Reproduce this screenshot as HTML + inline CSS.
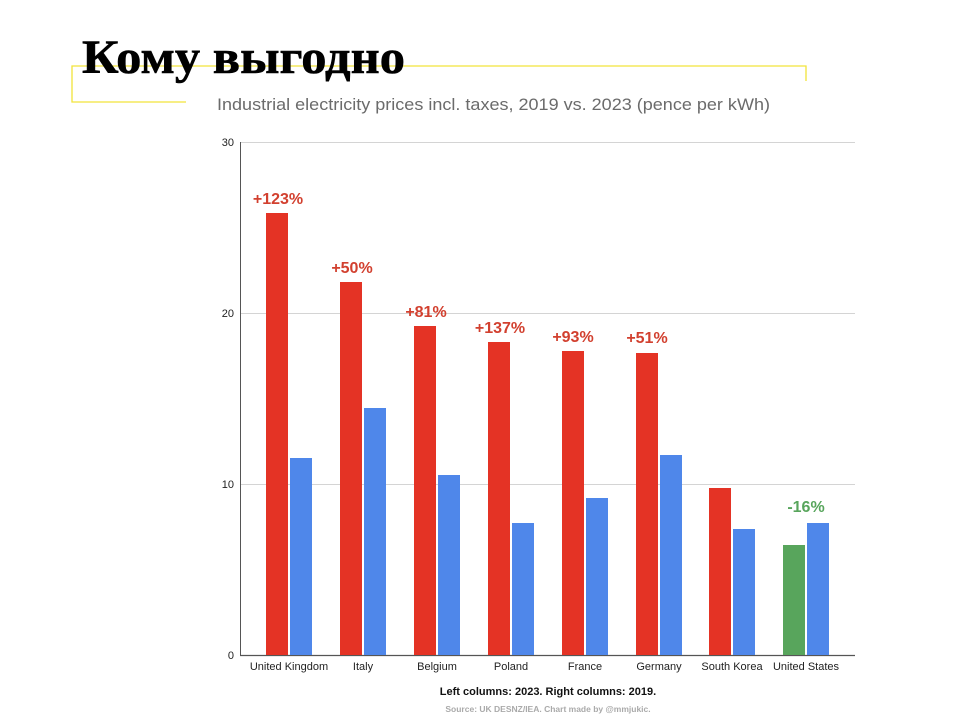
<!DOCTYPE html>
<html><head><meta charset="utf-8"><style>
body{margin:0;background:#fff;width:960px;height:720px;overflow:hidden}
svg{display:block}
</style></head><body>
<svg width="960" height="720" xmlns="http://www.w3.org/2000/svg">
<rect width="960" height="720" fill="#fff"/>
<g stroke="#f2e33a" stroke-width="1.3" fill="none">
<polyline points="186,102 72,102 72,66 806,66 806,81"/>
</g>
<text x="82" y="73" font-family="Liberation Serif, serif" font-weight="bold" font-size="48" fill="#000" stroke="#000" stroke-width="0.6" textLength="323" lengthAdjust="spacingAndGlyphs">Кому выгодно</text>
<text x="217" y="110" font-family="Liberation Sans, sans-serif" font-size="17" fill="#6b6b6b" textLength="553" lengthAdjust="spacingAndGlyphs">Industrial electricity prices incl. taxes, 2019 vs. 2023 (pence per kWh)</text>
<g stroke="#d4d4d4" stroke-width="1">
<line x1="240" y1="142.5" x2="855" y2="142.5"/>
<line x1="240" y1="313.5" x2="855" y2="313.5"/>
<line x1="240" y1="484.5" x2="855" y2="484.5"/>
</g>
<line x1="240.5" y1="142" x2="240.5" y2="655" stroke="#555" stroke-width="1"/>
<line x1="240" y1="655.5" x2="855" y2="655.5" stroke="#555" stroke-width="1.2"/>
<g font-family="Liberation Sans, sans-serif" font-size="11" fill="#222" text-anchor="end">
<text x="234" y="146">30</text><text x="234" y="317">20</text><text x="234" y="488">10</text><text x="234" y="659">0</text>
</g>
<g fill="#e43325">
<rect x="266" y="213" width="22" height="442"/>
<rect x="340" y="282" width="22" height="373"/>
<rect x="414" y="326" width="22" height="329"/>
<rect x="488" y="342" width="22" height="313"/>
<rect x="562" y="351" width="22" height="304"/>
<rect x="636" y="353" width="22" height="302"/>
<rect x="709" y="488" width="22" height="167"/>
</g>
<rect x="783" y="545" width="22" height="110" fill="#58a55c"/>
<g fill="#4f87ea">
<rect x="290" y="458" width="22" height="197"/>
<rect x="364" y="408" width="22" height="247"/>
<rect x="438" y="475" width="22" height="180"/>
<rect x="512" y="523" width="22" height="132"/>
<rect x="586" y="498" width="22" height="157"/>
<rect x="660" y="455" width="22" height="200"/>
<rect x="733" y="529" width="22" height="126"/>
<rect x="807" y="523" width="22" height="132"/>
</g>
<g font-family="Liberation Sans, sans-serif" font-weight="bold" font-size="16" fill="#d2402f" text-anchor="middle">
<text x="278" y="204">+123%</text>
<text x="352" y="273">+50%</text>
<text x="426" y="317">+81%</text>
<text x="500" y="333">+137%</text>
<text x="573" y="342">+93%</text>
<text x="647" y="343">+51%</text>
<text x="806" y="512" fill="#58a55c">-16%</text>
</g>
<g font-family="Liberation Sans, sans-serif" font-size="11" fill="#222" text-anchor="middle">
<text x="289" y="670">United Kingdom</text>
<text x="363" y="670">Italy</text>
<text x="437" y="670">Belgium</text>
<text x="511" y="670">Poland</text>
<text x="585" y="670">France</text>
<text x="659" y="670">Germany</text>
<text x="732" y="670">South Korea</text>
<text x="806" y="670">United States</text>
</g>
<text x="548" y="695" font-family="Liberation Sans, sans-serif" font-weight="bold" font-size="11" fill="#111" text-anchor="middle">Left columns: 2023. Right columns: 2019.</text>
<text x="548" y="712" font-family="Liberation Sans, sans-serif" font-weight="bold" font-size="8.5" fill="#aaa" text-anchor="middle">Source: UK DESNZ/IEA. Chart made by @mmjukic.</text>
</svg>
</body></html>
